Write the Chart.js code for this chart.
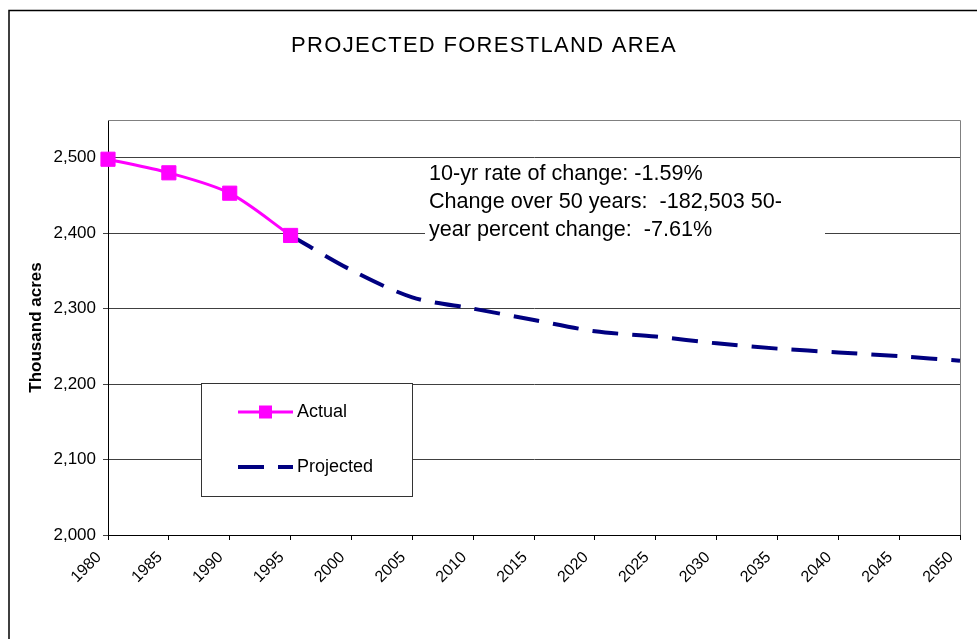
<!DOCTYPE html>
<html>
<head>
<meta charset="utf-8">
<script src="https://cdn.jsdelivr.net/npm/chart.js@4.4.0/dist/chart.umd.min.js"></script>
<style>
  html, body { margin: 0; padding: 0; background: #fff; }
</style>
</head>
<body>
<canvas id="forest" width="977" height="639"></canvas>
<script>
const years = ['1980', '1985', '1990', '1995', '2000', '2005', '2010', '2015',
  '2020', '2025', '2030', '2035', '2040', '2045', '2050'];
const actual = [2498, 2480, 2453, 2397, null, null, null, null, null, null, null, null, null, null, null];
const projected = [null, null, null, 2397, 2351, 2315, 2300, 2285, 2270, 2263, 2254, 2247, 2242, 2237, 2231];
const yTicks = [2000, 2100, 2200, 2300, 2400, 2500];
const chartTitle = 'PROJECTED FORESTLAND AREA';
const yTitle = 'Thousand acres';
const noteLines = [
  '10-yr rate of change: -1.59%',
  'Change over 50 years:  -182,503 50-',
  'year percent change:  -7.61%'
];

Chart.defaults.font.family = "'Liberation Sans', Arial, sans-serif";
Chart.defaults.color = '#000';

// frame, title, note box and legend box, drawn like the Excel original
const decor = {
  id: 'decor',
  beforeDatasetsDraw(chart) {
    const { ctx, chartArea: a } = chart;
    ctx.save();
    ctx.strokeStyle = '#808080';
    ctx.lineWidth = 1;
    ctx.beginPath();
    ctx.moveTo(a.left, a.top + 0.5);
    ctx.lineTo(a.right + 0.5, a.top + 0.5);
    ctx.lineTo(a.right + 0.5, a.bottom);
    ctx.stroke();
    ctx.restore();
  },
  afterDraw(chart) {
    const ctx = chart.ctx;
    const ds = chart.data.datasets;
    ctx.save();

    // outer border (left and top only)
    ctx.strokeStyle = '#000';
    ctx.lineWidth = 1.5;
    ctx.beginPath();
    ctx.moveTo(9, 639);
    ctx.lineTo(9, 10.5);
    ctx.lineTo(977, 10.5);
    ctx.stroke();

    // title
    ctx.fillStyle = '#000';
    ctx.font = "22px 'Liberation Sans', Arial, sans-serif";
    if ('letterSpacing' in ctx) ctx.letterSpacing = '1.3px';
    ctx.textAlign = 'center';
    ctx.textBaseline = 'middle';
    ctx.fillText(chartTitle, 484, 46);
    if ('letterSpacing' in ctx) ctx.letterSpacing = '0px';

    // note box
    ctx.fillStyle = '#fff';
    ctx.fillRect(425, 161, 400, 86);
    ctx.fillStyle = '#000';
    ctx.font = "21.6px 'Liberation Sans', Arial, sans-serif";
    ctx.textAlign = 'left';
    ctx.textBaseline = 'alphabetic';
    noteLines.forEach((t, i) => ctx.fillText(t, 429, 180 + i * 28));

    // legend box
    ctx.fillStyle = '#fff';
    ctx.fillRect(201, 383, 212, 114);
    ctx.strokeStyle = '#333';
    ctx.lineWidth = 1;
    ctx.strokeRect(201.5, 383.5, 211, 113);

    const rows = [412, 467];
    ds.forEach((d, i) => {
      const y = rows[i];
      ctx.strokeStyle = d.borderColor;
      ctx.lineWidth = d.borderWidth;
      ctx.setLineDash(d.borderDash || []);
      ctx.beginPath();
      ctx.moveTo(238, y);
      ctx.lineTo(293, y);
      ctx.stroke();
      ctx.setLineDash([]);
      if (d.pointRadius > 0) {
        ctx.fillStyle = d.pointBackgroundColor;
        ctx.fillRect(259, y - 6.5, 13, 13);
      }
      ctx.fillStyle = '#000';
      ctx.font = "18px 'Liberation Sans', Arial, sans-serif";
      ctx.textBaseline = 'middle';
      ctx.fillText(d.label, 297, y);
    });
    ctx.restore();
  }
};

new Chart(document.getElementById('forest'), {
  type: 'line',
  data: {
    labels: years,
    datasets: [
      {
        label: 'Actual',
        data: actual,
        borderColor: '#ff00ff',
        backgroundColor: '#ff00ff',
        borderWidth: 3,
        tension: 0.3,
        pointStyle: 'rect',
        pointRadius: 10,
        pointBorderWidth: 1,
        pointBackgroundColor: '#ff00ff',
        pointBorderColor: '#ff00ff',
        clip: false
      },
      {
        label: 'Projected',
        data: projected,
        borderColor: '#000080',
        backgroundColor: '#000080',
        borderWidth: 4,
        borderDash: [26, 14],
        tension: 0.3,
        pointRadius: 0,
        clip: false
      }
    ]
  },
  options: {
    responsive: false,
    animation: false,
    layout: { padding: { top: 120, right: 17, bottom: 0, left: 20 } },
    plugins: { legend: { display: false }, tooltip: { enabled: false } },
    scales: {
      x: {
        offset: false,
        grid: { drawOnChartArea: false, drawTicks: true, tickLength: 5, color: '#000' },
        border: { color: '#000', width: 1 },
        ticks: { font: { size: 16 }, minRotation: 45, maxRotation: 45, autoSkip: false, padding: 8, labelOffset: -9 },
        afterFit: s => { s.height = 104; s.paddingLeft = 0; s.paddingRight = 0; }
      },
      y: {
        min: 2000,
        max: 2550,
        afterBuildTicks: s => { s.ticks = yTicks.map(v => ({ value: v })); },
        grid: { color: '#404040', tickLength: 5 },
        border: { color: '#000', width: 1 },
        ticks: { font: { size: 17 }, padding: 7, callback: v => v.toLocaleString('en-US') },
        title: { display: true, text: yTitle, font: { size: 17, weight: 'bold' }, padding: { top: 6, bottom: 0 } },
        afterFit: s => { s.width = 88; }
      }
    }
  },
  plugins: [decor]
});
</script>
</body>
</html>
